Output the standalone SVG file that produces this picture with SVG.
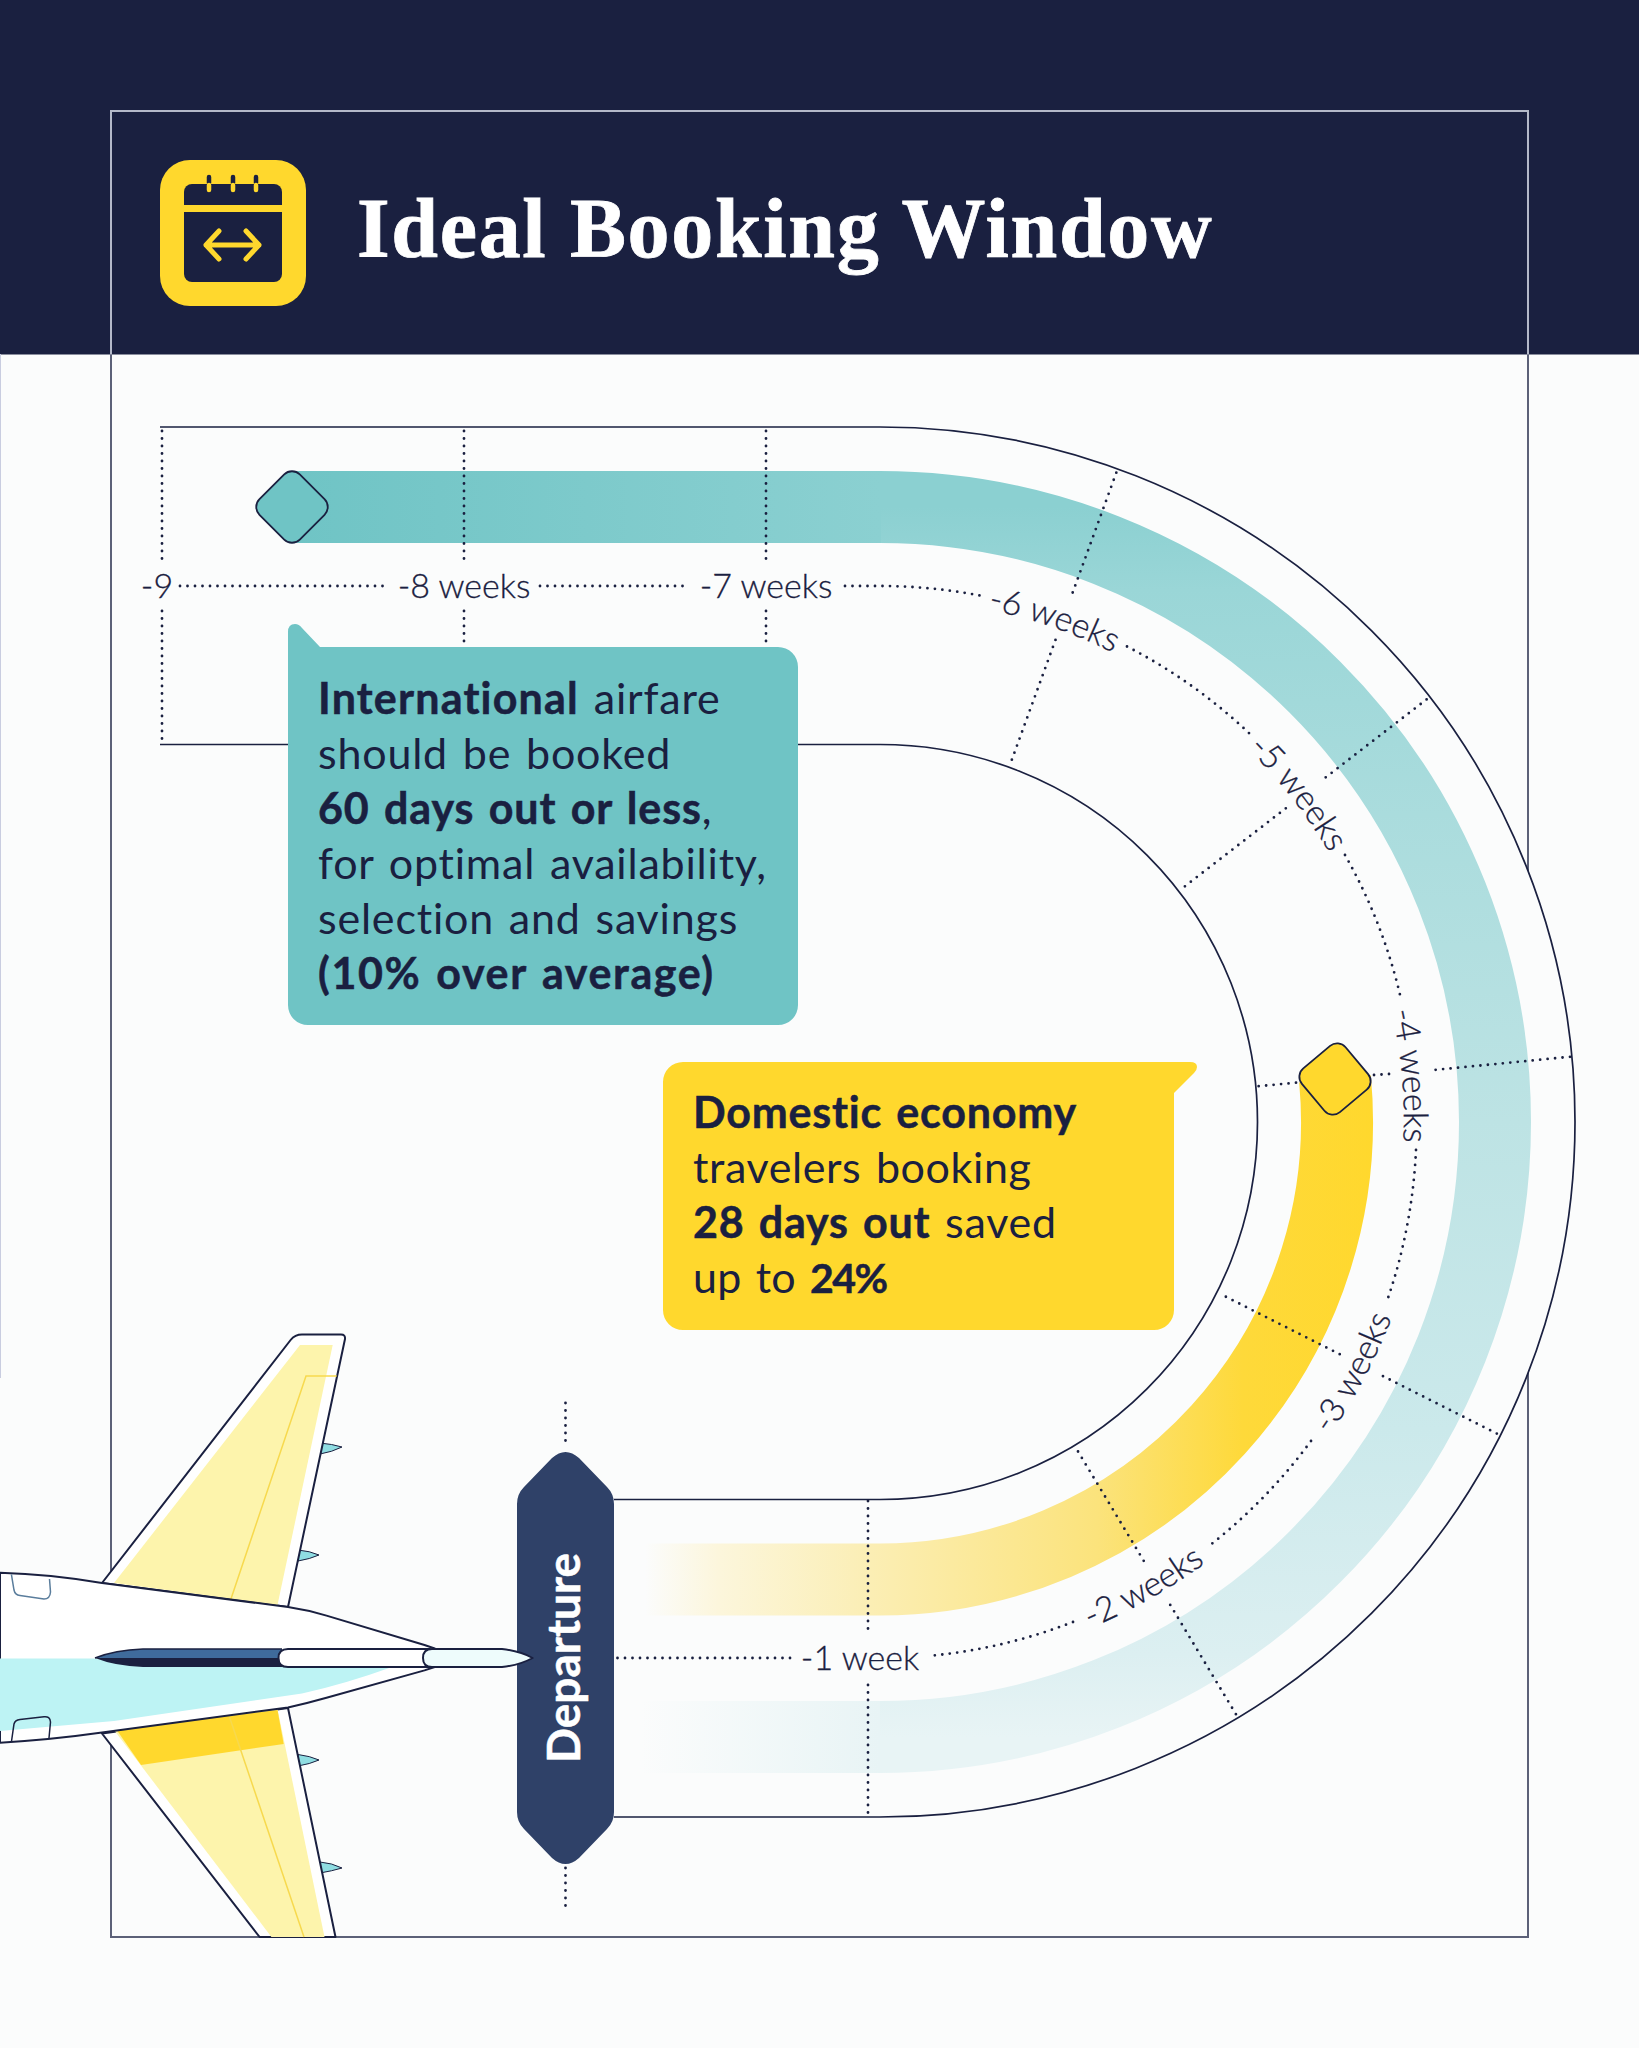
<svg xmlns="http://www.w3.org/2000/svg" width="1639" height="2048" viewBox="0 0 1639 2048">
<style>
.lbl{font-family:Lato,"Liberation Sans",sans-serif;font-weight:300;font-size:34px;fill:#1a2040;stroke:#1a2040;stroke-width:.3}
.bub{font-family:Lato,"Liberation Sans",sans-serif;font-weight:400;font-size:43px;fill:#1a2040;word-spacing:3px;letter-spacing:.8px}
.bub tspan.b{font-weight:700;stroke:#1a2040;stroke-width:.5;letter-spacing:1.2px}
.bub tspan.c{font-weight:700;stroke:#1a2040;stroke-width:.5;letter-spacing:.8px}
.dot{fill:none;stroke:#1a2040;stroke-width:2.8;stroke-linecap:round;stroke-dasharray:0 7.5}
.line{fill:none;stroke:#1a2040;stroke-width:1.7}
.band{fill:none;stroke-width:72}
.pl{stroke:#1a2040;stroke-width:2;stroke-linejoin:round}
.tip{fill:#8fdde2;stroke:#1a2040;stroke-width:1}
.inner{fill:none;stroke:#f7d94e;stroke-width:1.5}
</style>
<defs>
<linearGradient id="tealTop" gradientUnits="userSpaceOnUse" x1="292" y1="0" x2="880" y2="0"><stop offset="0" stop-color="#6fc4c5"/><stop offset="1" stop-color="#8bd0d1"/></linearGradient>
<linearGradient id="tealArc" gradientUnits="userSpaceOnUse" x1="0" y1="507" x2="0" y2="1737"><stop offset="0" stop-color="#8bd0d1"/><stop offset=".067" stop-color="#9ad6d7"/><stop offset=".25" stop-color="#aadcdd"/><stop offset=".5" stop-color="#bde3e4"/><stop offset=".75" stop-color="#cbe9eb"/><stop offset=".933" stop-color="#dceff1"/><stop offset="1" stop-color="#e8f4f5"/></linearGradient>
<linearGradient id="tealEnd" gradientUnits="userSpaceOnUse" x1="640" y1="0" x2="880" y2="0"><stop offset="0" stop-color="#fbfcfc"/><stop offset="1" stop-color="#e8f4f5"/></linearGradient>
<linearGradient id="yel" gradientUnits="userSpaceOnUse" x1="645" y1="0" x2="1374" y2="0"><stop offset="0" stop-color="#fbfcfc"/><stop offset=".1" stop-color="#fcf6dc"/><stop offset=".31" stop-color="#fbeeb4"/><stop offset=".62" stop-color="#fbe37c"/><stop offset=".82" stop-color="#fed93a"/><stop offset="1" stop-color="#ffd82d"/></linearGradient>
<path id="arcCW" d="M880,598 A524 524 0 0 1 880,1646"/>
<path id="arcCCW" d="M880,1670 A548 548 0 0 0 880,574"/>
</defs>
<rect width="1639" height="2048" fill="#fbfcfc"/>
<rect width="1639" height="354.5" fill="#1a2040"/>
<path d="M0.5,354V1378" stroke="#c9cde0" stroke-width="1" fill="none"/>
<g id="frame" fill="none" stroke-width="2">
<path d="M111,354.5V111H1528V354.5" stroke="#b4b9c9"/>
<path d="M111,354.5V1937H1528V354.5" stroke="#5c6178"/>
</g>
<g id="header-icon">
<rect x="160" y="160" width="146" height="146" rx="30" fill="#ffd82d"/>
<path d="M184,205V192a8,8 0 0 1 8,-8H274a8,8 0 0 1 8,8V205Z" fill="#1a2040"/>
<path d="M184,212H282V274a8,8 0 0 1 -8,8H192a8,8 0 0 1 -8,-8Z" fill="#1a2040"/>
<path d="M209,177V183M233,177V183M256,177V183" stroke="#1a2040" stroke-width="4.5" stroke-linecap="round" fill="none"/>
<path d="M209,185V190M233,185V190M256,185V190" stroke="#ffd82d" stroke-width="4.5" stroke-linecap="round" fill="none"/>
<path d="M206,245H259M219,231L206,245L219,259M246,231L259,245L246,259" stroke="#ffd82d" stroke-width="5" stroke-linecap="round" stroke-linejoin="round" fill="none"/>
</g>
<text id="title" x="357" y="257" font-family="'Liberation Serif',serif" font-weight="700" font-size="84" letter-spacing="1.65" stroke="#ffffff" stroke-width=".8" fill="#ffffff">Ideal Booking Window</text>
<g id="track">
<path d="M160,427H880A695,695 0 0 1 880,1817H614V1499.500H880A377.500,377.500 0 0 0 880,744.500H160Z" fill="#fbfcfc" stroke="none"/>
<path class="line" d="M160,427H880A695,695 0 0 1 880,1817H614"/>
<path class="line" d="M160,744.500H880A377.500,377.500 0 0 1 880,1499.500H614"/>
</g>
<g id="bands">
<path class="band" stroke="url(#tealEnd)" d="M640,1737H881"/>
<path class="band" stroke="url(#tealArc)" d="M880,507A615,615 0 0 1 880,1737"/>
<path class="band" stroke="url(#tealTop)" d="M292,507H881"/>
<path class="band" stroke="url(#yel)" stroke-width="73" d="M645,1579.500H880A457.500,457.500 0 0 0 1335,1079"/>
</g>
<g id="connectors">
<path class="dot" d="M162,431V560M162,611V744M464,431V566M464,611V647M766,431V566M766,611V647"/>
<path class="dot" d="M868,1501V1634M868,1685V1814"/>
<path class="dot" d="M1116.300,472.700L1072.200,593.900M1055.500,639.900L1010.300,764"/>
<path class="dot" d="M1426.600,699.400L1324.500,778.300M1285.800,808.300L1181.400,889"/>
<path class="dot" d="M1570,1056.800L1434,1070M1389,1074L1374,1075M1296,1082.700L1256.300,1086.400"/>
<path class="dot" d="M1496.800,1433.600L1382.500,1375.900M1339.700,1354.200L1220,1293.800"/>
<path class="dot" d="M1235.900,1714.200L1167.400,1600.200M1143.700,1560.800L1076.200,1448.500"/>
<path class="dot" d="M180,586H383M540,586H690M845,586H880A536,536 0 0 1 980,595.500"/>
<path class="dot" d="M1127,646.500A536,536 0 0 1 1250,734"/>
<path class="dot" d="M1345,855A536,536 0 0 1 1401,999"/>
<path class="dot" d="M1416,1150A536,536 0 0 1 1387,1301"/>
<path class="dot" d="M1311,1441A536,536 0 0 1 1209,1546"/>
<path class="dot" d="M1073,1622A536,536 0 0 1 928,1656"/>
<path class="dot" d="M790,1658H616"/>
<path class="dot" d="M565.500,1403V1447M565.500,1868V1911"/>
</g>
<g id="labels">
<text class="lbl" x="157" y="598" text-anchor="middle">-9</text>
<text class="lbl" x="464" y="598" text-anchor="middle">-8 weeks</text>
<text class="lbl" x="766" y="598" text-anchor="middle">-7 weeks</text>
<text class="lbl" text-anchor="middle"><textPath href="#arcCW" startOffset="175">-6 weeks</textPath></text>
<text class="lbl" text-anchor="middle"><textPath href="#arcCW" startOffset="474">-5 weeks</textPath></text>
<text class="lbl" text-anchor="middle"><textPath href="#arcCW" startOffset="777">-4 weeks</textPath></text>
<text class="lbl" text-anchor="middle"><textPath href="#arcCCW" startOffset="594">-3 weeks</textPath></text>
<text class="lbl" text-anchor="middle"><textPath href="#arcCCW" startOffset="282">-2 weeks</textPath></text>
<text class="lbl" x="860" y="1670" text-anchor="middle">-1 week</text>
</g>
<g id="marker-international"><rect x="-28.500" y="-28.500" width="57" height="57" rx="11" transform="translate(292,507) rotate(45)" fill="#6fc4c5" stroke="#1a2040" stroke-width="1.800"/></g>
<g id="marker-domestic"><rect x="-28.500" y="-28.500" width="57" height="57" rx="11" transform="translate(1335,1079) rotate(50)" fill="#ffd82d" stroke="#1a2040" stroke-width="1.800"/></g>
<g id="bubble-international">
<path d="M288,632Q288,624 295,624Q299,624 302,628L320,647H778a20,20 0 0 1 20,20V1005a20,20 0 0 1 -20,20H308a20,20 0 0 1 -20,-20Z" fill="#6fc4c5"/>
<text class="bub" x="318" y="714"><tspan class="b">International</tspan> airfare</text>
<text class="bub" x="318" y="769">should be booked</text>
<text class="bub" x="318" y="824"><tspan class="b" style="letter-spacing:.9px">60 days out or less</tspan>,</text>
<text class="bub" x="318" y="879">for optimal availability,</text>
<text class="bub" x="318" y="934">selection and savings</text>
<text class="bub" x="318" y="989"><tspan class="b" style="letter-spacing:1.6px">(10% over average)</tspan></text>
</g>
<g id="bubble-domestic">
<path d="M683,1062H1190Q1197,1062 1197,1067Q1197,1070 1194,1073L1174,1093V1310a20,20 0 0 1 -20,20H683a20,20 0 0 1 -20,-20V1082a20,20 0 0 1 20,-20Z" fill="#ffd82d"/>
<text class="bub" x="693" y="1128"><tspan class="c">Domestic economy</tspan></text>
<text class="bub" x="693" y="1183" style="letter-spacing:.6px">travelers booking</text>
<text class="bub" x="693" y="1238"><tspan class="c">28 days out</tspan> saved</text>
<text class="bub" x="693" y="1293" style="letter-spacing:.2px">up to <tspan class="c" style="letter-spacing:-1.5px;font-size:41px">24%</tspan></text>
</g>
<g id="departure">
<path d="M517,1504Q517,1494 524,1487L552,1458Q565.500,1446 579,1458L607,1487Q614,1494 614,1504V1812Q614,1822 607,1829L579,1858Q565.500,1870 552,1858L524,1829Q517,1822 517,1812Z" fill="#2f4168"/>
<text x="580" y="1658" transform="rotate(-90 580 1658)" text-anchor="middle" font-family="Lato,'Liberation Sans',sans-serif" font-weight="700" font-size="46" stroke="#ffffff" stroke-width=".5" fill="#ffffff">Departure</text>
</g>
<g id="airplane">
<path class="tip" d="M320,1443Q332,1444 342,1447Q332,1452 320,1454Z"/>
<path class="tip" d="M298,1550Q310,1551 319,1555Q310,1559 298,1561Z"/>
<path class="tip" d="M298,1754.500Q310,1756 319,1760Q310,1764 298,1766Z"/>
<path class="tip" d="M320,1862Q332,1863 342,1868Q332,1871 320,1873Z"/>
<path class="pl" fill="#ffffff" d="M102,1583L290.600,1340Q295,1334.500 302,1334.500H341Q345.500,1334.500 345,1339L288,1607Z"/>
<path fill="#fdf4ac" d="M114,1583L300,1345H332.700L277.500,1605Z"/>
<path class="inner" d="M230.600,1600L306,1376H336.700"/>
<path class="pl" fill="#ffffff" d="M102,1733.500L259.600,1937H335.500L288,1708Z"/>
<path fill="#fdf4ac" d="M114,1730L271.400,1937H324.500L277.500,1709Z"/>
<path fill="#ffd82d" d="M116,1729L277.500,1710L283.700,1744L141,1765Z"/>
<path class="inner" d="M229.400,1716.700L304,1937"/>
<path class="pl" fill="#ffffff" d="M0,1572.700Q50,1574 102,1583L288,1607Q308,1610 326.500,1615.600L424.500,1645L434.700,1648.500V1667L424.500,1670.400L326.500,1697.700Q308,1703 288,1707.400L102,1732.600Q50,1740 0,1742.700Z"/>
<path fill="#bdf3f4" d="M0,1658.600H400V1667H392Q345,1684 302,1693.500L114,1721L0,1731Z"/>
<path fill="none" stroke="#5a7d9c" stroke-width="1.500" d="M11.400,1574.400L14,1590Q15,1595 20,1595.500L44,1599Q50,1599 50.500,1592L49.500,1579"/>
<path fill="none" stroke="#1a2040" stroke-width="1.500" d="M11.400,1742L14,1724Q15,1720 20,1719.500L44,1716.700Q50,1716 50.500,1722L49,1738"/>
<path fill="#3f6b9c" d="M95,1658Q115,1650 143,1649H282V1658Z"/>
<path fill="#1a2040" d="M95,1658Q115,1666 143,1667H282V1658Z"/>
<path fill="none" stroke="#1a2040" stroke-width="1.500" d="M95,1658Q115,1650 143,1649H282"/>
<path class="pl" stroke-width="1.500" fill="#ffffff" d="M288,1649H430V1667H288Q278.500,1667 278.500,1658Q278.500,1649 288,1649Z"/>
<path class="pl" stroke-width="1.500" fill="#eefcfc" d="M432,1649H502Q520,1651 532.600,1658Q520,1665 502,1667H432Q423,1667 423,1658Q423,1649 432,1649Z"/>
</g>
</svg>
